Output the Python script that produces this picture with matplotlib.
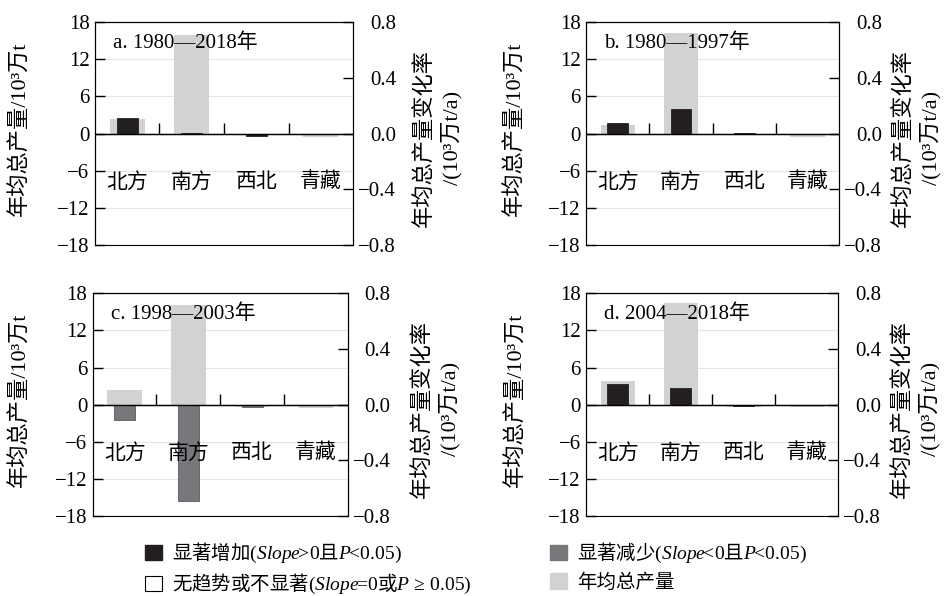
import matplotlib
matplotlib.use('Agg')
import numpy as np
import matplotlib.pyplot as plt
from matplotlib.patches import Patch
from matplotlib.ticker import FuncFormatter

plt.rcParams['font.family'] = ['Liberation Serif', 'Noto Sans CJK SC']
plt.rcParams['mathtext.fontset'] = 'custom'
plt.rcParams['mathtext.it'] = 'Liberation Serif:italic'
plt.rcParams['mathtext.rm'] = 'Liberation Serif'
plt.rcParams['mathtext.default'] = 'rm'
plt.rcParams['axes.unicode_minus'] = True

# ---------------- data ----------------
categories = ['北方', '南方', '西北', '青藏']
panel_titles = ['a. 1980—2018年', 'b. 1980—1997年', 'c. 1998—2003年', 'd. 2004—2018年']

mean_a = [2.4, 15.9, -0.3, -0.6]
mean_b = [1.35, 16.2, -0.2, -0.6]
mean_c = [2.4, 16.1, -0.3, -0.6]
mean_d = [3.8, 16.4, -0.3, -0.4]

slope_a = [0.108, 0.005, -0.015, 0.0]
slope_b = [0.076, 0.175, 0.004, 0.0]
slope_c = [-0.108, -0.69, -0.015, 0.0]
slope_d = [0.151, 0.122, -0.01, 0.0]

sig_a = ['inc', 'inc', 'inc', 'ns']
sig_b = ['inc', 'inc', 'inc', 'ns']
sig_c = ['dec', 'dec', 'dec', 'ns']
sig_d = ['inc', 'inc', 'inc', 'ns']

left_ticks = [-18, -12, -6, 0, 6, 12, 18]
right_ticks = [-0.8, -0.4, 0.0, 0.4, 0.8]

legend_labels_1 = ['显著增加$(\\mathit{Slope}\\!\\!{>}\\!0$且$\\mathit{P}\\!\\!{<}\\!0.05)$',
                   '无趋势或不显著$(\\mathit{Slope}\\!\\!{=}\\!0$或$\\mathit{P}\\,{\\geq}\\,0.05)$']
legend_labels_2 = ['显著减少$(\\mathit{Slope}\\!\\!{<}\\!0$且$\\mathit{P}\\!\\!{<}\\!0.05)$',
                   '年均总产量']

# ---------------- style ----------------
C_MEAN = '#d1d2d4'
C_INC = '#231f20'
C_DEC = '#78787c'
sig_face = {'inc': C_INC, 'dec': C_DEC, 'ns': 'white'}
sig_edge = {'inc': C_INC, 'dec': '#5a5a5e', 'ns': 'black'}

fig = plt.figure(figsize=(9.47, 5.96), dpi=100)

positions = [
    [0.1003, 0.589, 0.2725, 0.374],
    [0.619, 0.589, 0.267, 0.374],
    [0.098, 0.134, 0.269, 0.374],
    [0.619, 0.134, 0.266, 0.374],
]
label_x = [(-0.29, 1.33), (-0.28, 1.31), (-0.285, 1.35), (-0.28, 1.31)]

means = [mean_a, mean_b, mean_c, mean_d]
slopes = [slope_a, slope_b, slope_c, slope_d]
sigs = [sig_a, sig_b, sig_c, sig_d]

fmt_right = FuncFormatter(lambda v, p: f'{v:.1f}'.replace('-', '\u2212'))

for k in range(4):
    ax = fig.add_axes(positions[k])
    x = np.arange(len(categories))
    ax.set_xlim(-0.5, len(categories) - 0.5)
    ax.set_ylim(-18, 18)
    ax.set_yticks(left_ticks)
    ax.grid(axis='y', color='#e4e4e4', lw=0.8)
    ax.set_axisbelow(True)
    ax.bar(x, means[k], width=0.54, color=C_MEAN, zorder=1)

    ax.spines['bottom'].set_position(('data', 0))
    ax.set_xticks([0.5, 1.5, 2.5])
    ax.tick_params(axis='x', direction='in', length=8, width=1, labelbottom=False)
    ax.tick_params(axis='y', direction='in', length=7, width=1, labelsize=15, pad=4)

    ax2 = ax.twinx()
    ax2.set_ylim(-0.8, 0.8)
    ax2.set_yticks(right_ticks)
    ax2.yaxis.set_major_formatter(fmt_right)
    ax2.tick_params(axis='y', direction='in', length=7, width=1, labelsize=15, pad=31)
    for lbl in ax2.get_yticklabels():
        lbl.set_horizontalalignment('right')
    ax2.bar(x, slopes[k], width=0.33,
            color=[sig_face[s] for s in sigs[k]],
            edgecolor=[sig_edge[s] for s in sigs[k]], linewidth=0.6, zorder=2)
    ax2.axhline(0, color='black', lw=1.0, zorder=5)

    ax2.text(0.07, 0.905, panel_titles[k], transform=ax.transAxes, fontsize=15,
             ha='left', va='center', zorder=6)
    for i, c in enumerate(categories):
        ax2.text(i, -7.9, c, transform=ax.transData, ha='center', va='center',
                 fontsize=15, zorder=6)

    lx, rx = label_x[k]
    ax.text(lx, 0.52, '年均总产量/10³万t', rotation=90, transform=ax.transAxes,
            ha='center', va='center', fontsize=16)
    ax.text(rx, 0.48, '年均总产量变化率\n/(10³万t/a)', rotation=90, transform=ax.transAxes,
            ha='center', va='center', fontsize=16, linespacing=1.3, multialignment='center')

handles_1 = [Patch(facecolor=C_INC, edgecolor=C_INC),
             Patch(facecolor='white', edgecolor='black', linewidth=0.8)]
handles_2 = [Patch(facecolor=C_DEC, edgecolor=C_DEC),
             Patch(facecolor=C_MEAN, edgecolor=C_MEAN)]
leg_kw = dict(loc='upper left', frameon=False,
              prop={'family': 'Noto Sans CJK SC', 'size': 14},
              handlelength=0.85, handleheight=0.85, labelspacing=0.35,
              handletextpad=0.55, borderpad=0, borderaxespad=0)
fig.legend(handles_1, legend_labels_1, bbox_to_anchor=(145 / 947, 1 - 541 / 596), **leg_kw)
fig.legend(handles_2, legend_labels_2, bbox_to_anchor=(550 / 947, 1 - 541 / 596), **leg_kw)

fig.savefig('out.png', dpi=100)
